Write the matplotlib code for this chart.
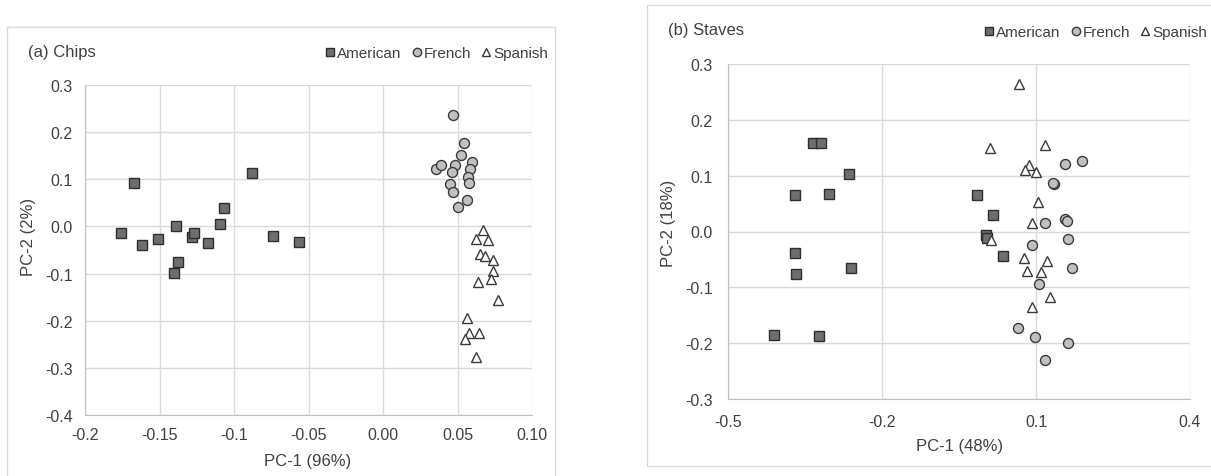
import matplotlib.pyplot as plt
from matplotlib.lines import Line2D
from matplotlib.patches import Rectangle

plt.rcParams['font.family'] = ['Liberation Sans', 'DejaVu Sans']

# ---- (a) Chips ----
chips_am_x = [-0.167, -0.176, -0.162, -0.151, -0.139, -0.1376, -0.140, -0.128, -0.127,
              -0.1176, -0.1096, -0.107, -0.0878, -0.0741, -0.0567]
chips_am_y = [0.092, -0.014, -0.039, -0.026, 0.000, -0.075, -0.098, -0.023, -0.013,
              -0.035, 0.005, 0.039, 0.114, -0.021, -0.032]
chips_fr_x = [0.0473, 0.0543, 0.0522, 0.0358, 0.0388, 0.0483, 0.0597, 0.0586, 0.0460,
              0.0568, 0.0575, 0.0450, 0.0468, 0.0566, 0.0500]
chips_fr_y = [0.236, 0.178, 0.1515, 0.121, 0.130, 0.130, 0.136, 0.1225, 0.115,
              0.1056, 0.0914, 0.091, 0.0723, 0.056, 0.0405]
chips_sp_x = [0.0669, 0.0627, 0.0704, 0.0650, 0.0684, 0.0738, 0.0738, 0.0723, 0.0638,
              0.0771, 0.0566, 0.0579, 0.0643, 0.0550, 0.0627]
chips_sp_y = [-0.007, -0.027, -0.028, -0.059, -0.062, -0.0705, -0.094, -0.1115, -0.1186,
              -0.1568, -0.194, -0.225, -0.225, -0.2388, -0.2777]

# ---- (b) Staves ----
staves_am_x = [-0.334, -0.3197, -0.2644, -0.370, -0.3034, -0.3694, -0.3673, -0.2608,
               -0.4099, -0.3218, -0.0152, 0.0153, 0.0025, 0.004, 0.0366]
staves_am_y = [0.159, 0.158, 0.1034, 0.0645, 0.0675, -0.0377, -0.077, -0.0645,
               -0.1847, -0.1864, 0.0645, 0.0287, -0.0066, -0.011, -0.0442]
staves_fr_x = [0.1892, 0.1565, 0.1352, 0.134, 0.1558, 0.160, 0.1182, 0.1622, 0.0920,
               0.170, 0.1055, 0.065, 0.099, 0.163, 0.1168]
staves_fr_y = [0.1267, 0.1207, 0.0855, 0.087, 0.0215, 0.018, 0.0155, -0.013, -0.0244,
               -0.0645, -0.0938, -0.1733, -0.1882, -0.1996, -0.2307]
staves_sp_x = [0.0671, 0.0096, 0.1182, 0.0863, 0.0778, 0.0998, 0.1033, 0.0920, 0.0125,
               0.0763, 0.1210, 0.0834, 0.1090, 0.1274, 0.0920]
staves_sp_y = [0.2647, 0.1494, 0.1542, 0.1183, 0.1106, 0.107, 0.0532, 0.0155, -0.0155,
               -0.0471, -0.053, -0.0699, -0.0729, -0.1177, -0.1357]

chips_xticks = [-0.2, -0.15, -0.1, -0.05, 0.0, 0.05, 0.10]
chips_xlabels = ['-0.2', '-0.15', '-0.1', '-0.05', '0.00', '0.05', '0.10']
chips_yticks = [-0.4, -0.3, -0.2, -0.1, 0.0, 0.1, 0.2, 0.3]
staves_xticks = [-0.5, -0.2, 0.1, 0.4]
staves_yticks = [-0.3, -0.2, -0.1, 0.0, 0.1, 0.2, 0.3]

W, H = 1211, 477
txt = '#404040'
grid = '#d9d9d9'
sq = dict(marker='s', ms=7, mfc='#6e6e6e', mec='#2e2e2e', mew=1.0, ls='none')
ci = dict(marker='o', ms=7.2, mfc='#c0c0c0', mec='#3a3a3a', mew=1.0, ls='none')
tr = dict(marker='^', ms=7, mfc='white', mec='#3a3a3a', mew=1.0, ls='none')

fig = plt.figure(figsize=(W / 100, H / 100), dpi=100)


def px(x0, y0, x1, y1):
    return [x0 / W, 1 - y1 / H, (x1 - x0) / W, (y1 - y0) / H]


# chart frames
fig.patches.append(Rectangle((7 / W, -0.2), (555 - 7) / W, 1.2 - 28 / H,
                             transform=fig.transFigure, fill=False, ec=grid, lw=1))
fig.patches.append(Rectangle((647 / W, 1 - 467 / H), 0.6, (467 - 6) / H,
                             transform=fig.transFigure, fill=False, ec=grid, lw=1))


def style(ax, xticks, xlabels, yticks, xpad, ypad):
    ax.set_xticks(xticks)
    ax.set_xticklabels(xlabels)
    ax.set_yticks(yticks)
    ax.set_yticklabels(['%.1f' % v for v in yticks])
    ax.set_xlim(xticks[0], xticks[-1])
    ax.set_ylim(yticks[0], yticks[-1])
    ax.grid(True, color=grid, lw=1)
    ax.set_axisbelow(True)
    for s in ['top', 'right']:
        ax.spines[s].set_visible(False)
    for s in ['left', 'bottom']:
        ax.spines[s].set_color('#bfbfbf')
    ax.tick_params(length=0, labelsize=11.5, colors=txt)
    ax.tick_params(axis='x', pad=xpad)
    ax.tick_params(axis='y', pad=ypad)


def legend(x_right, y):
    h = [Line2D([], [], **dict(sq, ms=6)), Line2D([], [], **dict(ci, ms=6)),
         Line2D([], [], **dict(tr, ms=6))]
    fig.legend(h, ['American', 'French', 'Spanish'], ncol=3, frameon=False,
               loc='center right', bbox_to_anchor=(x_right / W, 1 - y / H),
               fontsize=11, handlelength=0.6, handletextpad=0.15,
               columnspacing=0.7, borderpad=0, borderaxespad=0,
               labelcolor=txt)


ax1 = fig.add_axes(px(85, 86, 532, 416))
ax1.plot(chips_am_x, chips_am_y, **sq)
ax1.plot(chips_fr_x, chips_fr_y, **ci)
ax1.plot(chips_sp_x, chips_sp_y, **tr)
style(ax1, chips_xticks, chips_xlabels, chips_yticks, 9, 9)
fig.text(28 / W, 1 - 52 / H, '(a) Chips', fontsize=12, color=txt, va='center')
fig.text(308 / W, 1 - 462 / H, 'PC-1 (96%)', fontsize=12, color=txt, ha='center', va='center')
fig.text(29 / W, 1 - 237 / H, 'PC-2 (2%)', fontsize=12, color=txt, ha='center', va='center',
         rotation=90)
legend(548, 54)

ax2 = fig.add_axes(px(728, 65, 1190, 400))
ax2.plot(staves_am_x, staves_am_y, **sq)
ax2.plot(staves_fr_x, staves_fr_y, **ci)
ax2.plot(staves_sp_x, staves_sp_y, **tr)
style(ax2, staves_xticks, ['%.1f' % v for v in staves_xticks], staves_yticks, 11, 11)
fig.text(668 / W, 1 - 30 / H, '(b) Staves', fontsize=12, color=txt, va='center')
fig.text(960 / W, 1 - 447 / H, 'PC-1 (48%)', fontsize=12, color=txt, ha='center', va='center')
fig.text(669 / W, 1 - 223 / H, 'PC-2 (18%)', fontsize=12, color=txt, ha='center', va='center',
         rotation=90)
legend(1207, 33)

fig.savefig('out.png', dpi=100)
